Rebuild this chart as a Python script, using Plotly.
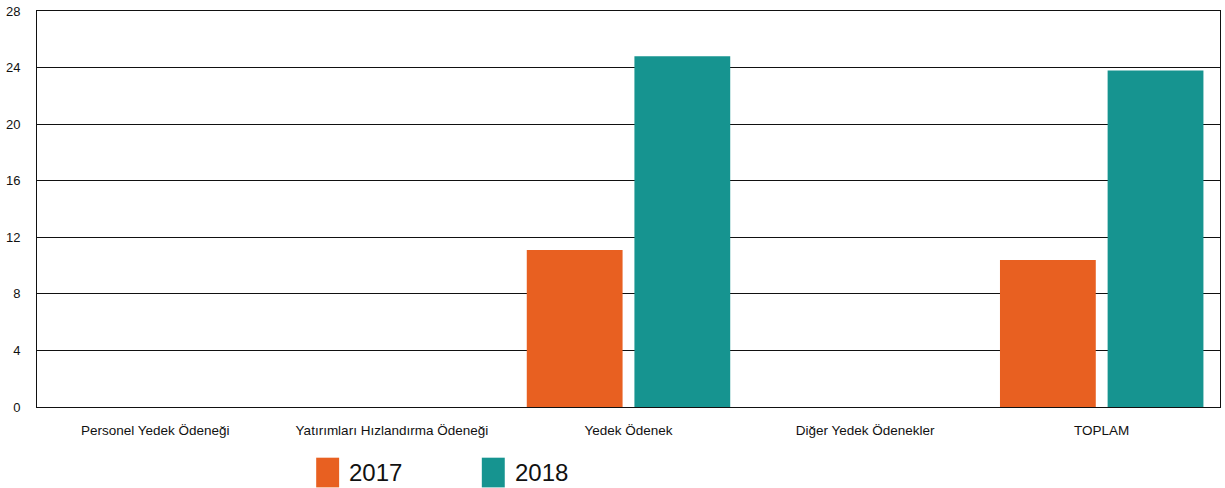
import plotly.graph_objects as go

categories = ["Personel Yedek Ödeneği", "Yatırımları Hızlandırma Ödeneği",
              "Yedek Ödenek", "Diğer Yedek Ödenekler", "TOPLAM"]
vals_2017 = [0, 0, 11.1, 0, 10.4]
vals_2018 = [0, 0, 24.8, 0, 23.8]
y_ticks = [0, 4, 8, 12, 16, 20, 24, 28]

ORANGE = "#E86021"
TEAL = "#169490"

fig = go.Figure()
fig.add_trace(go.Bar(x=categories, y=vals_2017, name="2017",
                     marker=dict(color=ORANGE, line=dict(width=0))))
fig.add_trace(go.Bar(x=categories, y=vals_2018, name="2018",
                     marker=dict(color=TEAL, line=dict(width=0))))

# legend drawn by hand so the swatches match the big squares of the original
legend_items = [("2017", ORANGE, 0.236), ("2018", TEAL, 0.376)]
for label, color, x0 in legend_items:
    fig.add_shape(type="rect", xref="paper", yref="paper",
                  x0=x0, x1=x0 + 0.0194, y0=-0.128, y1=-0.203,
                  fillcolor=color, line=dict(width=0))
    fig.add_annotation(text=label, xref="paper", yref="paper",
                       x=x0 + 0.0262, y=-0.166, xanchor="left", yanchor="middle",
                       showarrow=False, font=dict(size=24, color="#111"))

fig.update_layout(
    width=1225, height=488,
    margin=dict(l=37, r=4, t=8, b=81),
    paper_bgcolor="white", plot_bgcolor="white",
    font=dict(family="Liberation Sans, Arial, sans-serif", size=13, color="#111"),
    barmode="group", bargap=0.09, bargroupgap=0.11,
    showlegend=False,
    xaxis=dict(showline=True, linecolor="#111", linewidth=1, mirror=True,
               ticks="", ticklabelstandoff=11, tickfont=dict(size=13.5)),
    yaxis=dict(range=[0, 28], tickvals=y_ticks, showgrid=True,
               gridcolor="#111", gridwidth=1, zeroline=False,
               showline=True, linecolor="#111", linewidth=1, mirror=True,
               ticks="", ticklabelstandoff=13, tickfont=dict(size=13)),
)

fig.write_html("out.html", config={"displayModeBar": False},
               post_script="document.body.style.margin='0';document.body.style.overflow='hidden';")
